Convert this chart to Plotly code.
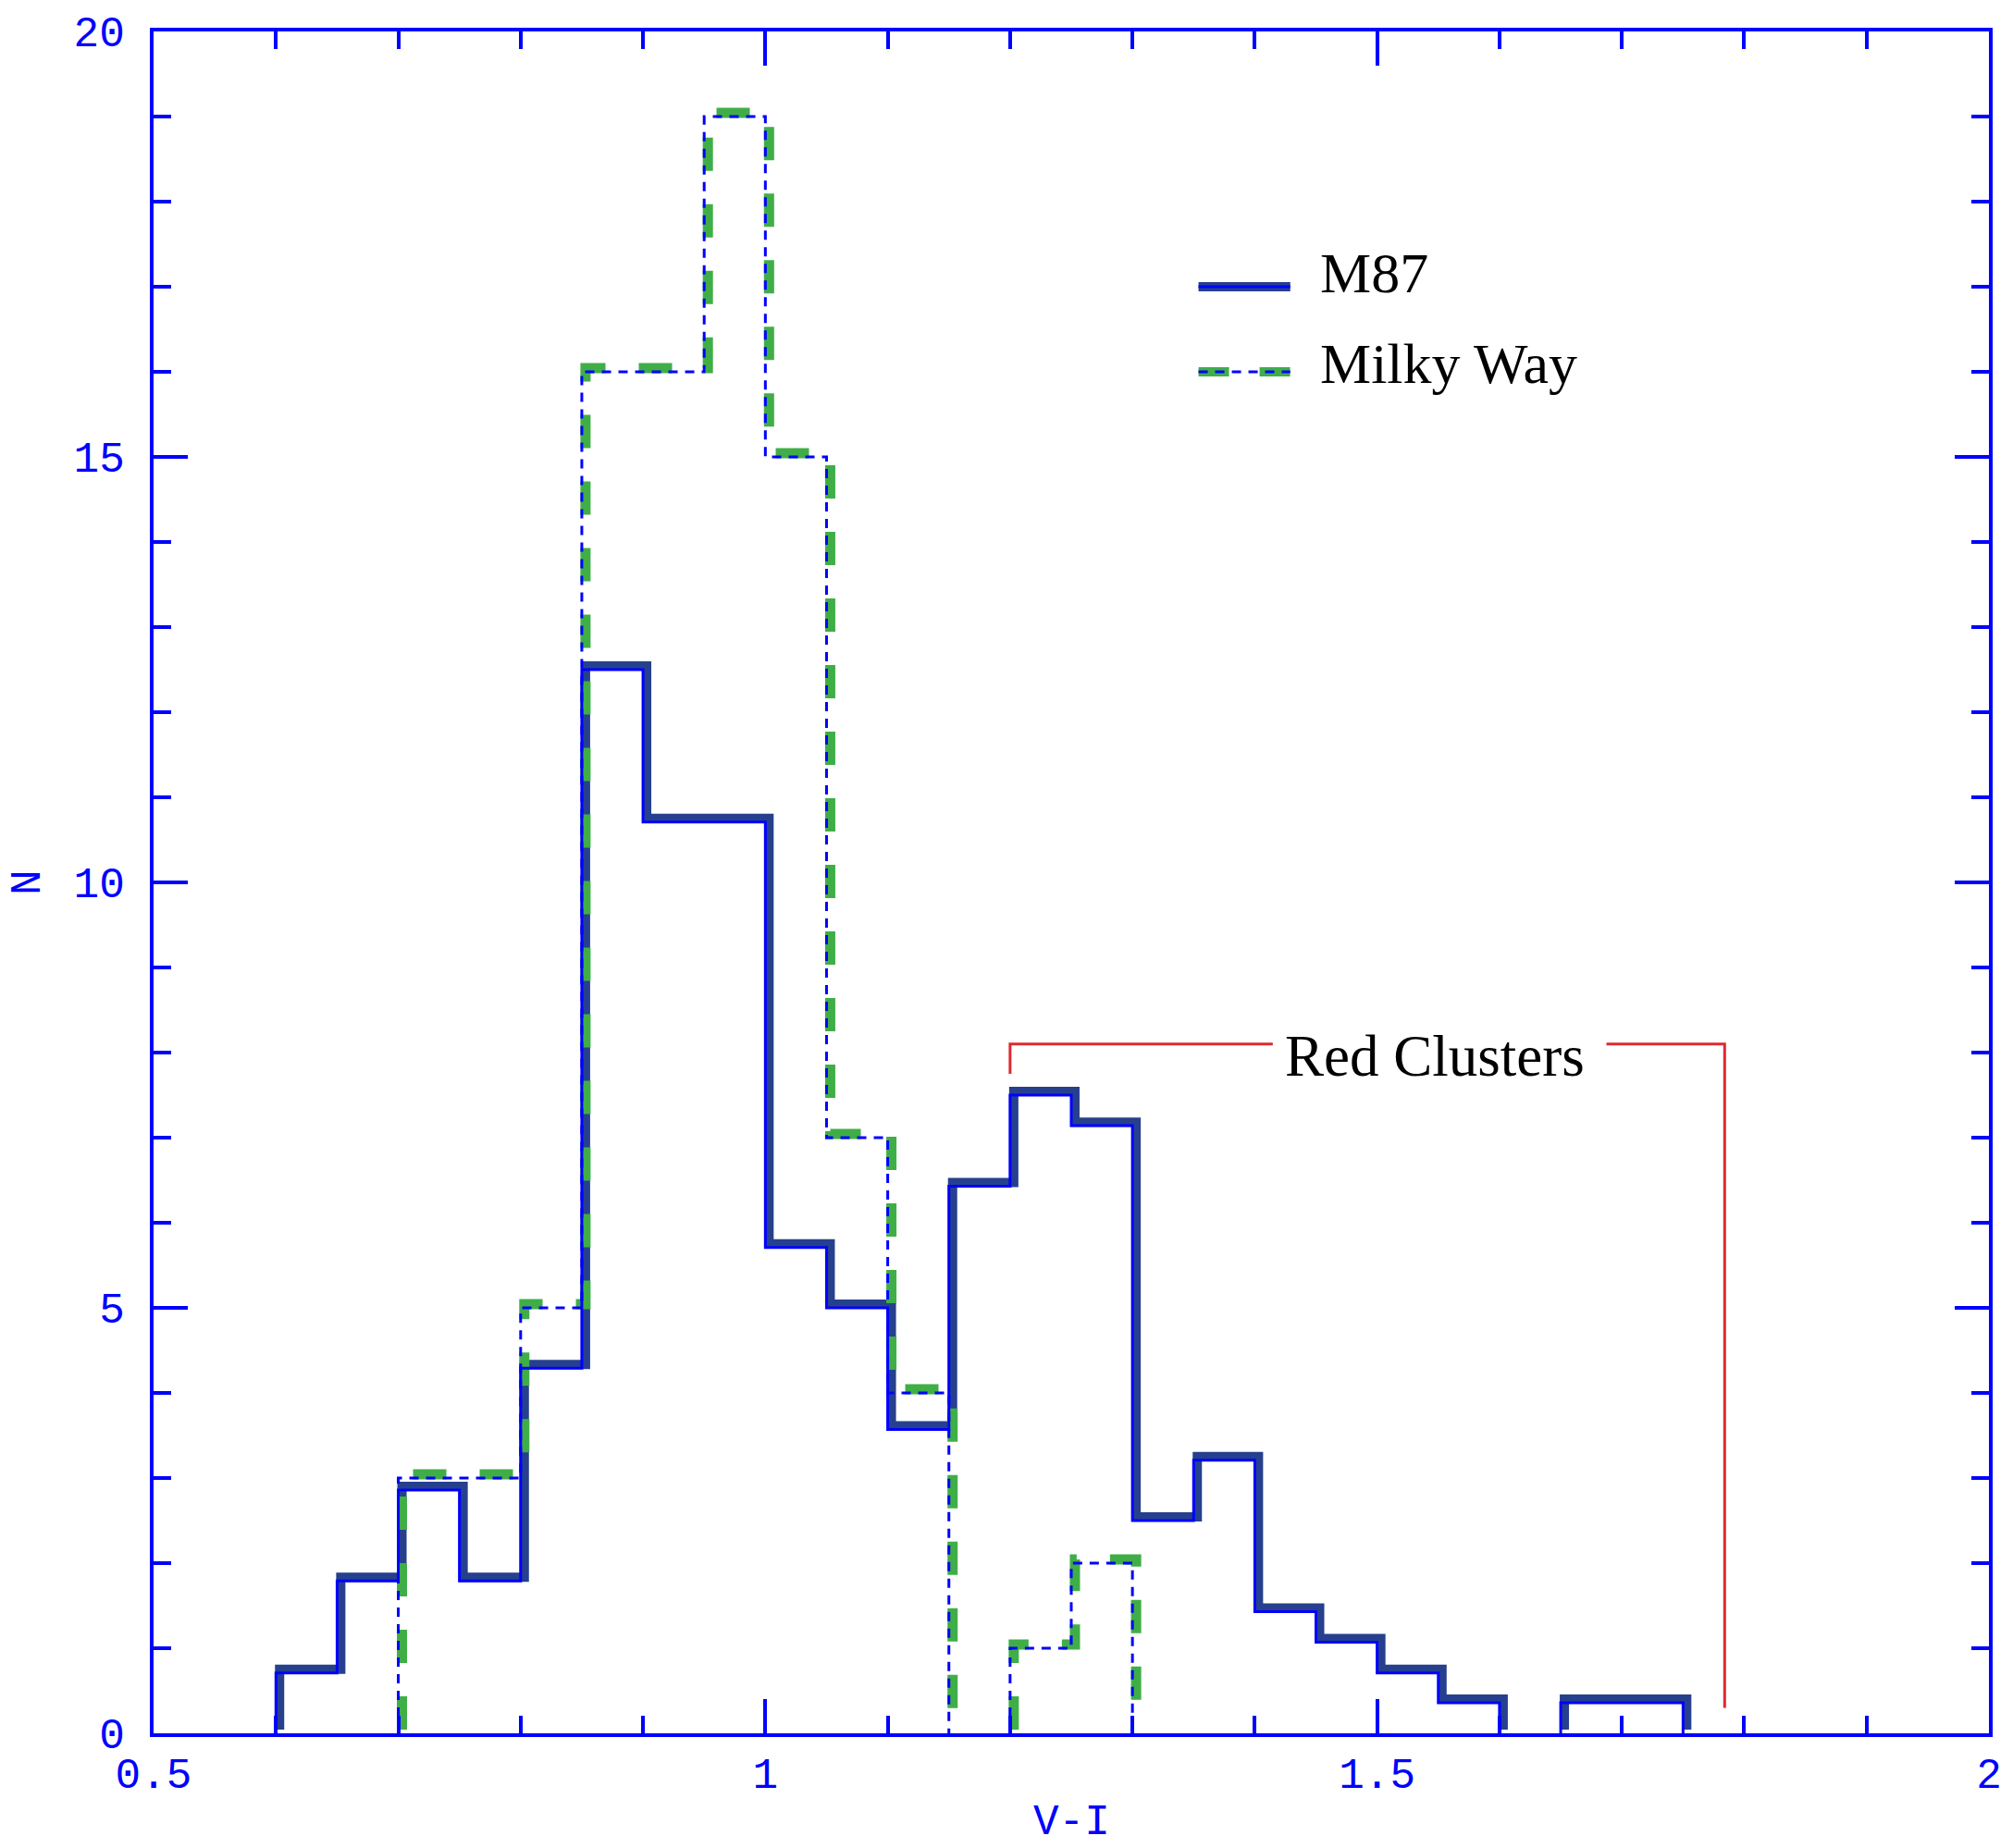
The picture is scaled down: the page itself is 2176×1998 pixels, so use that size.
import plotly.graph_objects as go

# ---------------- data ----------------
bin_width = 0.05
m87_start = 0.60
m87_counts = [0.71, 1.79, 2.86, 1.79, 4.29, 12.5, 10.71, 10.71, 5.71, 5.0, 3.57,
              6.43, 7.5, 7.14, 2.5, 3.21, 1.43, 1.07, 0.71, 0.36, 0.0, 0.36, 0.36]
mw_start = 0.70
mw_counts = [3, 3, 5, 16, 16, 19, 15, 7, 4, 0, 1, 2]

x_ticks = [0.5, 1, 1.5, 2]
x_tick_labels = ["0.5", "1", "1.5", "2"]
y_ticks = [0, 5, 10, 15, 20]
y_tick_labels = ["0", "5", "10", "15", "20"]

legend_names = ["M87", "Milky Way"]
annotation_text = "Red Clusters"

# ---------------- style ----------------
W, H = 2176, 1998
ML, MR, MT, MB = 166, 18, 26, 124
AX_BLUE = "#0000ff"
DARK = "#26408e"
GREEN = "#40ae47"
RED = "#dd2a30"
MONO = "Liberation Mono"
SERIF = "Liberation Serif"

X_RANGE = [0.5, 2.0]
Y_RANGE = [0, 20]
plot_w = W - ML - MR
plot_h = H - MT - MB
# pixel offset of the thick band relative to the thin line
OFF_X_PX, OFF_Y_PX = 4, 4
dx = OFF_X_PX * (X_RANGE[1] - X_RANGE[0]) / plot_w
dy = OFF_Y_PX * (Y_RANGE[1] - Y_RANGE[0]) / plot_h


def step_path(start, counts):
    n = len(counts)
    edges = [round(start + i * bin_width, 4) for i in range(n + 1)]
    segs, cur = [], None
    for i, c in enumerate(counts):
        if c > 0:
            if cur is None:
                cur = [i, i]
            else:
                cur[1] = i
        else:
            if cur:
                segs.append(cur)
            cur = None
    if cur:
        segs.append(cur)
    xs, ys = [], []
    for a, b in segs:
        xs.append(edges[a]); ys.append(0)
        for i in range(a, b + 1):
            xs.append(edges[i]); ys.append(counts[i])
        xs.append(edges[b + 1]); ys.append(0)
        xs.append(None); ys.append(None)
    return xs, ys


mx, my = step_path(m87_start, m87_counts)
wx, wy = step_path(mw_start, mw_counts)

fig = go.Figure()

# manual legend (main axes, bottom layer)
LEG_X = [1.354, 1.429]
LEG_Y = [17.0, 16.0]
LEG_TEXT_X = 1.452
fig.add_trace(go.Scatter(x=LEG_X, y=[LEG_Y[0]] * 2, mode="lines",
                         line=dict(color=DARK, width=10), showlegend=False, hoverinfo="skip"))
fig.add_trace(go.Scatter(x=LEG_X, y=[LEG_Y[0]] * 2, mode="lines",
                         line=dict(color=AX_BLUE, width=3), showlegend=False, hoverinfo="skip"))
fig.add_trace(go.Scatter(x=LEG_X, y=[LEG_Y[1]] * 2, mode="lines",
                         line=dict(color=GREEN, width=10, dash="33px,33px"),
                         showlegend=False, hoverinfo="skip"))
fig.add_trace(go.Scatter(x=LEG_X, y=[LEG_Y[1]] * 2, mode="lines",
                         line=dict(color=AX_BLUE, width=3, dash="10px,8px"),
                         showlegend=False, hoverinfo="skip"))

# thick bands on shifted overlay axes
fig.add_trace(go.Scatter(x=mx, y=my, mode="lines", line_shape="hv",
                         line=dict(color=DARK, width=10), xaxis="x2", yaxis="y2",
                         showlegend=False, hoverinfo="skip"))
fig.add_trace(go.Scatter(x=wx, y=wy, mode="lines", line_shape="hv",
                         line=dict(color=GREEN, width=11, dash="36px,36px"),
                         xaxis="x2", yaxis="y2", showlegend=False, hoverinfo="skip"))
# thin lines on an unshifted overlay above
fig.add_trace(go.Scatter(x=mx, y=my, mode="lines", line_shape="hv",
                         line=dict(color=AX_BLUE, width=3), xaxis="x3", yaxis="y3",
                         showlegend=False, hoverinfo="skip"))
fig.add_trace(go.Scatter(x=wx, y=wy, mode="lines", line_shape="hv",
                         line=dict(color=AX_BLUE, width=3, dash="10px,8px"),
                         xaxis="x3", yaxis="y3", showlegend=False, hoverinfo="skip"))

annos = [
    dict(x=LEG_TEXT_X, y=17.16, text=legend_names[0], xanchor="left", yanchor="middle",
         showarrow=False, font=dict(family=SERIF, size=62, color="black")),
    dict(x=LEG_TEXT_X, y=16.1, text=legend_names[1], xanchor="left", yanchor="middle",
         showarrow=False, font=dict(family=SERIF, size=62, color="black")),
    dict(x=1.547, y=7.96, text=annotation_text, xanchor="center", yanchor="middle",
         showarrow=False, font=dict(family=SERIF, size=63, color="black")),
    dict(x=0.5, xref="paper", y=-0.0525, yref="paper", text="V-I", showarrow=False,
         xanchor="center", yanchor="middle", font=dict(family=MONO, size=46, color=AX_BLUE)),
    dict(x=-0.068, xref="paper", y=0.5, yref="paper", text="N", showarrow=False,
         textangle=-90, xanchor="center", yanchor="middle",
         font=dict(family=MONO, size=46, color=AX_BLUE)),
]

# red bracket
BR_LEFT_X, BR_RIGHT_X = 1.2, 1.784
BR_Y, BR_LEFT_BOTTOM, BR_RIGHT_BOTTOM = 8.1, 7.75, 0.3
BR_GAP = [1.4147, 1.6874]
shapes = [
    dict(type="path", xref="x", yref="y",
         path=f"M {BR_LEFT_X} {BR_LEFT_BOTTOM} L {BR_LEFT_X} {BR_Y} L {BR_GAP[0]} {BR_Y}",
         line=dict(color=RED, width=3)),
    dict(type="path", xref="x", yref="y",
         path=f"M {BR_GAP[1]} {BR_Y} L {BR_RIGHT_X} {BR_Y} L {BR_RIGHT_X} {BR_RIGHT_BOTTOM}",
         line=dict(color=RED, width=3)),
]

axis_common = dict(
    showgrid=False, zeroline=False, showline=True, linecolor=AX_BLUE, linewidth=4,
    mirror="ticks", ticks="inside", tickcolor=AX_BLUE, tickwidth=3.5, ticklen=37,
    tickfont=dict(family=MONO, size=46, color=AX_BLUE), ticklabeloverflow="allow",
)

fig.update_layout(
    width=W, height=H, autosize=False,
    margin=dict(l=ML, r=MR, t=MT, b=MB, pad=0),
    paper_bgcolor="white", plot_bgcolor="white",
    showlegend=False,
    xaxis=dict(range=X_RANGE, tickvals=x_ticks, ticktext=x_tick_labels,
               minor=dict(dtick=0.1, tick0=0.5, ticks="inside", ticklen=19,
                          tickcolor=AX_BLUE, tickwidth=3.5),
               ticklabelstandoff=0, **axis_common),
    yaxis=dict(range=Y_RANGE, tickvals=y_ticks, ticktext=y_tick_labels,
               minor=dict(dtick=1, tick0=0, ticks="inside", ticklen=19,
                          tickcolor=AX_BLUE, tickwidth=3.5),
               ticklabelstandoff=18, **axis_common),
    xaxis2=dict(range=[X_RANGE[0] - dx, X_RANGE[1] - dx], overlaying="x", visible=False,
                fixedrange=True),
    yaxis2=dict(range=[Y_RANGE[0] - dy, Y_RANGE[1] - dy], overlaying="y", visible=False,
                fixedrange=True),
    xaxis3=dict(range=X_RANGE, overlaying="x", visible=False, fixedrange=True),
    yaxis3=dict(range=Y_RANGE, overlaying="y", visible=False, fixedrange=True),
    annotations=annos,
    shapes=shapes,
)

fig.write_html("out.html", config={"displayModeBar": False},
               post_script="document.body.style.margin='0px';document.body.style.overflow='hidden';")
